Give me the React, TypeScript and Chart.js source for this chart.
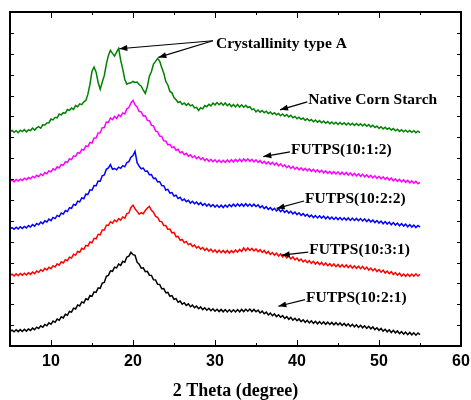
import React, { useEffect, useRef } from "react";
import { Chart, registerables } from "chart.js";

Chart.register(...registerables);

// 2θ sampling grid of the diffractograms (degrees)
const THETA_START = 5;
const THETA_STEP = 0.25;

// Intensities (a.u., stacked with vertical offsets as in the figure), one row per degree
const nativeCornStarch = [
  1284, 1291, 1280, 1289, 1277, 1292, 1284, 1296, 1282, 1294, 1290, 1305,
  1293, 1306, 1314, 1304, 1324, 1323, 1335, 1337, 1359, 1354, 1369, 1366,
  1389, 1384, 1397, 1394, 1416, 1411, 1425, 1417, 1440, 1433, 1450, 1445,
  1462, 1470, 1508, 1566, 1645, 1670, 1640, 1578, 1537, 1580, 1620, 1688,
  1740, 1770, 1752, 1736, 1760, 1782, 1710, 1658, 1596, 1568, 1574, 1576,
  1584, 1578, 1581, 1566, 1556, 1532, 1512, 1554, 1616, 1644, 1688, 1704,
  1722, 1706, 1668, 1634, 1584, 1563, 1524, 1516, 1488, 1474, 1458, 1463,
  1446, 1455, 1441, 1452, 1438, 1444, 1426, 1429, 1410, 1427, 1420, 1440,
  1433, 1447, 1438, 1455, 1444, 1458, 1445, 1456, 1442, 1455, 1439, 1450,
  1434, 1446, 1432, 1447, 1431, 1444, 1430, 1441, 1428, 1433, 1415, 1420,
  1402, 1413, 1400, 1410, 1397, 1406, 1392, 1401, 1388, 1397, 1384, 1392,
  1379, 1389, 1376, 1386, 1372, 1381, 1367, 1375, 1361, 1370, 1357, 1365,
  1351, 1361, 1348, 1356, 1343, 1353, 1340, 1350, 1337, 1347, 1334, 1344,
  1331, 1341, 1329, 1340, 1327, 1338, 1326, 1337, 1324, 1335, 1323, 1334,
  1321, 1332, 1320, 1331, 1318, 1329, 1316, 1326, 1312, 1322, 1308, 1317,
  1303, 1313, 1300, 1310, 1298, 1306, 1293, 1302, 1289, 1298, 1285, 1295,
  1283, 1292, 1281, 1291, 1280, 1289, 1277, 1286, 1278,
];

const futps1012 = [
  986, 994, 983, 997, 988, 999, 991, 1005, 996, 1009, 1001, 1015,
  1007, 1022, 1014, 1030, 1021, 1039, 1032, 1049, 1043, 1061, 1054, 1073,
  1066, 1087, 1082, 1104, 1099, 1121, 1116, 1139, 1135, 1158, 1154, 1177,
  1173, 1198, 1194, 1219, 1215, 1245, 1246, 1275, 1276, 1307, 1308, 1341,
  1340, 1366, 1355, 1374, 1362, 1384, 1374, 1396, 1390, 1420, 1428, 1455,
  1470, 1444, 1432, 1404, 1402, 1378, 1379, 1351, 1349, 1321, 1318, 1288,
  1283, 1257, 1255, 1229, 1228, 1205, 1208, 1188, 1193, 1172, 1178, 1157,
  1163, 1146, 1154, 1137, 1145, 1129, 1139, 1122, 1133, 1117, 1127, 1110,
  1121, 1106, 1118, 1104, 1115, 1101, 1113, 1099, 1112, 1099, 1114, 1101,
  1116, 1102, 1117, 1104, 1119, 1105, 1120, 1107, 1121, 1106, 1118, 1103,
  1115, 1099, 1111, 1095, 1106, 1091, 1103, 1088, 1100, 1085, 1096, 1079,
  1091, 1075, 1085, 1068, 1079, 1063, 1075, 1059, 1070, 1055, 1067, 1052,
  1064, 1049, 1061, 1046, 1058, 1043, 1055, 1040, 1052, 1037, 1049, 1034,
  1046, 1031, 1044, 1030, 1043, 1028, 1041, 1026, 1039, 1024, 1037, 1021,
  1034, 1019, 1031, 1016, 1028, 1013, 1025, 1010, 1022, 1007, 1019, 1004,
  1016, 1001, 1013, 998, 1010, 994, 1006, 989, 1001, 986, 998, 983,
  995, 980, 992, 977, 989, 975, 986, 972, 980,
];

const futps1022 = [
  702, 709, 699, 711, 701, 714, 704, 716, 707, 721, 712, 727,
  718, 734, 726, 742, 733, 750, 743, 760, 751, 770, 763, 782,
  775, 796, 790, 811, 805, 828, 824, 848, 843, 867, 863, 887,
  882, 909, 907, 935, 933, 961, 960, 988, 987, 1019, 1024, 1058,
  1066, 1086, 1058, 1063, 1055, 1071, 1064, 1080, 1073, 1099, 1104, 1131,
  1140, 1165, 1098, 1077, 1061, 1065, 1046, 1047, 1025, 1026, 1003, 1005,
  982, 985, 961, 960, 934, 938, 916, 919, 898, 903, 883, 890,
  871, 880, 864, 873, 856, 867, 852, 862, 847, 858, 842, 853,
  838, 850, 835, 847, 832, 844, 830, 843, 829, 844, 832, 847,
  835, 849, 836, 851, 838, 851, 837, 852, 838, 850, 836, 849,
  835, 845, 829, 839, 823, 834, 818, 829, 814, 825, 809, 820,
  805, 816, 800, 811, 796, 807, 791, 802, 787, 798, 782, 793,
  778, 789, 773, 784, 769, 781, 767, 780, 766, 778, 762, 775,
  760, 772, 758, 771, 757, 769, 755, 768, 754, 767, 752, 766,
  752, 764, 750, 763, 749, 761, 745, 758, 743, 754, 739, 751,
  736, 748, 732, 745, 730, 742, 726, 739, 724, 736, 720, 733,
  718, 730, 714, 727, 712, 724, 709, 722, 712,
];

const futps1031 = [
  423, 430, 419, 432, 421, 434, 424, 436, 426, 439, 429, 443,
  433, 449, 441, 457, 448, 465, 456, 472, 463, 481, 473, 492,
  484, 504, 497, 517, 511, 532, 527, 549, 544, 566, 561, 585,
  579, 603, 599, 623, 618, 645, 642, 669, 666, 695, 695, 723,
  723, 744, 735, 754, 744, 763, 754, 773, 766, 793, 797, 830,
  843, 822, 806, 789, 798, 792, 812, 826, 836, 813, 801, 776,
  771, 747, 745, 721, 721, 698, 700, 677, 680, 655, 656, 633,
  638, 619, 626, 606, 614, 596, 605, 587, 596, 580, 590, 573,
  584, 568, 580, 563, 575, 560, 574, 559, 572, 558, 572, 557,
  571, 559, 575, 562, 578, 566, 588, 571, 587, 572, 584, 569,
  581, 565, 577, 560, 572, 555, 566, 549, 560, 544, 556, 539,
  551, 534, 545, 528, 539, 522, 533, 516, 527, 510, 521, 504,
  515, 499, 511, 495, 507, 491, 504, 488, 500, 484, 497, 481,
  493, 478, 491, 475, 488, 473, 487, 472, 485, 470, 483, 467,
  480, 465, 478, 463, 476, 460, 472, 455, 467, 451, 463, 446,
  458, 442, 454, 437, 449, 433, 445, 428, 440, 424, 436, 419,
  431, 417, 431, 417, 431, 418, 432, 419, 430,
];

const futps1021 = [
  88, 95, 85, 97, 86, 98, 87, 100, 89, 102, 93, 107,
  98, 113, 105, 121, 112, 129, 121, 139, 130, 149, 142, 161,
  154, 175, 168, 190, 184, 207, 203, 227, 222, 246, 240, 264,
  258, 283, 277, 302, 297, 324, 321, 348, 345, 377, 381, 417,
  423, 450, 447, 472, 468, 491, 483, 507, 501, 533, 538, 561,
  547, 543, 502, 490, 466, 468, 445, 447, 424, 423, 397, 396,
  370, 369, 343, 344, 319, 321, 298, 302, 280, 284, 262, 269,
  250, 259, 243, 252, 235, 245, 229, 239, 223, 234, 218, 229,
  214, 226, 211, 223, 208, 220, 206, 219, 205, 218, 204, 217,
  204, 217, 204, 218, 205, 219, 206, 220, 208, 221, 206, 219,
  205, 215, 198, 209, 193, 203, 186, 197, 181, 192, 176, 187,
  172, 182, 165, 176, 160, 171, 155, 166, 151, 162, 146, 157,
  142, 154, 138, 151, 136, 148, 133, 146, 132, 144, 130, 143,
  129, 141, 127, 140, 126, 138, 123, 135, 121, 133, 117, 130,
  115, 127, 111, 124, 109, 121, 105, 118, 103, 114, 98, 109,
  94, 105, 89, 100, 85, 97, 81, 94, 79, 90, 74, 86,
  71, 83, 68, 81, 67, 79, 65, 78, 68,
];

const seriesNames = ["Native Corn Starch", "FUTPS(10:1:2)", "FUTPS(10:2:2)", "FUTPS(10:3:1)", "FUTPS(10:2:1)"];
const seriesData = [nativeCornStarch, futps1012, futps1022, futps1031, futps1021];
const seriesColors = ["#008000", "#ff00ff", "#0000ff", "#ff0000", "#000000"];

const xTickValues = [10, 20, 30, 40, 50, 60];
const xTitle = "2 Theta (degree)";

// Curve labels: anchor (2θ, intensity) and arrow tip (2θ, intensity)
const labelTheta = [41.38, 39.27, 40.98, 41.5, 41.1];
const labelIntensity = [1474, 1174, 880, 574, 290];
const arrowTipTheta = [37.93, 35.89, 37.52, 38.13, 37.72];
const arrowTipIntensity = [1414, 1134, 824, 544, 238];

// Crystallinity annotation
const crystText = "Crystallinity type A";
const crystLabel = [30.12, 1810];
const crystTipTheta = [18.33, 23.09];
const crystTipIntensity = [1780, 1728];

const twoTheta = seriesData[0].map((_, i) => THETA_START + i * THETA_STEP);

function drawArrow(ctx: CanvasRenderingContext2D, x0: number, y0: number, x1: number, y1: number) {
  ctx.beginPath();
  ctx.moveTo(x0, y0);
  ctx.lineTo(x1, y1);
  ctx.stroke();
  const ang = Math.atan2(y1 - y0, x1 - x0);
  const L = 8;
  const W = 3;
  ctx.beginPath();
  ctx.moveTo(x1, y1);
  ctx.lineTo(x1 - L * Math.cos(ang) + W * Math.sin(ang), y1 - L * Math.sin(ang) - W * Math.cos(ang));
  ctx.lineTo(x1 - L * Math.cos(ang) - W * Math.sin(ang), y1 - L * Math.sin(ang) + W * Math.cos(ang));
  ctx.closePath();
  ctx.fill();
}

const overlayPlugin = {
  id: "overlay",
  afterDraw(chart: any) {
    const { ctx, chartArea, scales } = chart;
    const { left, right, top, bottom } = chartArea;
    const x = scales.x;
    const y = scales.y;
    ctx.save();
    ctx.strokeStyle = "#000";
    ctx.fillStyle = "#000";
    // frame
    ctx.lineWidth = 2;
    ctx.strokeRect(left, top, right - left, bottom - top);
    // ticks
    ctx.lineWidth = 1;
    ctx.beginPath();
    for (let v = 5; v <= 60; v += 5) {
      const px = Math.round(x.getPixelForValue(v)) + 0.5;
      const len = v % 10 === 0 ? 6 : 3;
      ctx.moveTo(px, bottom);
      ctx.lineTo(px, bottom - len);
      ctx.moveTo(px, top);
      ctx.lineTo(px, top + len);
    }
    for (let v = 0; v <= 2000; v += 125) {
      const py = Math.round(y.getPixelForValue(v)) + 0.5;
      ctx.moveTo(left, py);
      ctx.lineTo(left + 4, py);
      ctx.moveTo(right, py);
      ctx.lineTo(right - 4, py);
    }
    ctx.stroke();

    // annotations
    ctx.font = "bold 15.5px 'Liberation Serif', 'Times New Roman', serif";
    ctx.textAlign = "left";
    ctx.textBaseline = "middle";
    ctx.lineWidth = 1.2;
    for (let i = 0; i < seriesNames.length; i++) {
      const lx = x.getPixelForValue(labelTheta[i]);
      const ly = y.getPixelForValue(labelIntensity[i]);
      ctx.fillText(seriesNames[i], lx, ly);
      drawArrow(ctx, lx - 1, ly + 2, x.getPixelForValue(arrowTipTheta[i]), y.getPixelForValue(arrowTipIntensity[i]));
    }
    const cx = x.getPixelForValue(crystLabel[0]);
    const cy = y.getPixelForValue(crystLabel[1]);
    ctx.fillText(crystText, cx, cy);
    for (let k = 0; k < crystTipTheta.length; k++) {
      drawArrow(ctx, cx - 3, cy - 3, x.getPixelForValue(crystTipTheta[k]), y.getPixelForValue(crystTipIntensity[k]));
    }
    ctx.restore();
  },
};

export default function App() {
  const canvasRef = useRef<HTMLCanvasElement | null>(null);

  useEffect(() => {
    const canvas = canvasRef.current;
    if (!canvas) return;
    const chart = new Chart(canvas, {
      type: "line",
      data: {
        datasets: seriesData.map((vals, k) => ({
          label: seriesNames[k],
          data: vals.map((v, i) => ({ x: twoTheta[i], y: v })),
          borderColor: seriesColors[k],
          borderWidth: 1.5,
          pointRadius: 0,
          tension: 0,
          fill: false,
        })),
      },
      options: {
        animation: false,
        responsive: true,
        maintainAspectRatio: false,
        layout: { padding: { left: 10, right: 10, top: 12, bottom: 0 } },
        plugins: { legend: { display: false }, tooltip: { enabled: false } },
        scales: {
          x: {
            type: "linear",
            min: 5,
            max: 60,
            afterBuildTicks: (s: any) => {
              s.ticks = xTickValues.map((v) => ({ value: v }));
            },
            afterFit: (s: any) => {
              s.height = 54;
              s.paddingLeft = 0;
              s.paddingRight = 0;
            },
            grid: { display: false, drawTicks: false },
            border: { display: false },
            ticks: {
              color: "#000",
              padding: 6,
              maxRotation: 0,
              autoSkip: false,
              font: { family: "'Liberation Sans', Arial, sans-serif", size: 16, weight: "bold" },
            },
            title: {
              display: true,
              text: xTitle,
              color: "#000",
              padding: { top: 0, bottom: 0 },
              font: { family: "'Liberation Serif', 'Times New Roman', serif", size: 18, weight: "bold", lineHeight: 1 },
            },
          },
          y: { display: false, min: 0, max: 2000 },
        },
      },
      plugins: [overlayPlugin],
    });
    return () => chart.destroy();
  }, []);

  return (
    <div style={{ position: "absolute", left: 0, top: 0, width: 471, height: 400, background: "#fff" }}>
      <canvas ref={canvasRef} />
    </div>
  );
}
